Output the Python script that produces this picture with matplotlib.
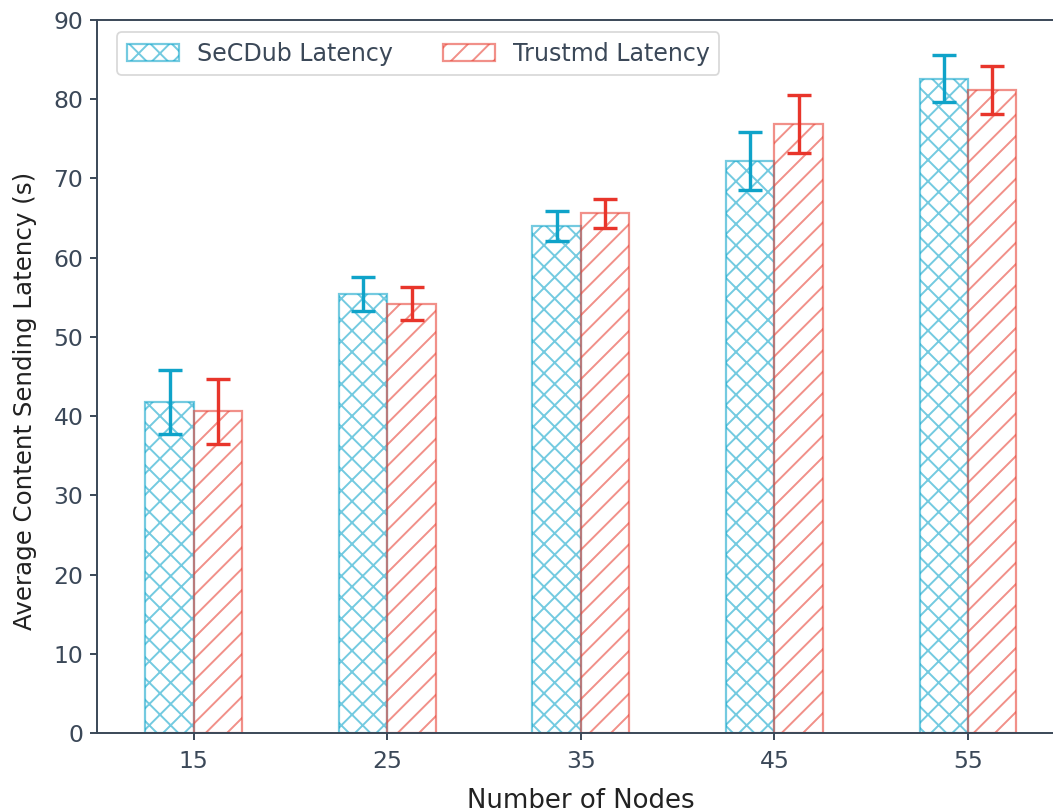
import matplotlib
matplotlib.use("Agg")
import matplotlib.pyplot as plt
import matplotlib.colors as mcolors
import numpy as np

# Data
nodes = [15, 25, 35, 45, 55]
secdub_latency = [41.8, 55.4, 64.0, 72.2, 82.6]
secdub_err = [4.0, 2.1, 1.85, 3.65, 2.95]
trustmd_latency = [40.6, 54.2, 65.6, 76.9, 81.2]
trustmd_err = [4.1, 2.05, 1.85, 3.65, 3.05]
series_labels = ["SeCDub Latency", "Trustmd Latency"]

text_color = "#3b4858"
label_color = "#222222"
cyan_err = "#0fa3c9"
red_err = "#e8352b"
cyan_edge = "#17a8cc"
red_edge = "#e8473a"

plt.rcParams["hatch.linewidth"] = 1.1

DPI = 128
W, H = 1053, 811
fig = plt.figure(figsize=(W / DPI, H / DPI), dpi=DPI)
ax = fig.add_axes([97 / W, 78 / H, (1064.7 - 97) / W, 713 / H])

x = np.array(nodes, dtype=float)
w = 2.5

ax.bar(x - w / 2, secdub_latency, width=w, facecolor="none",
       edgecolor=mcolors.to_rgba(cyan_edge, 0.6), hatch="xx",
       linewidth=1.25, label=series_labels[0])
ax.bar(x + w / 2, trustmd_latency, width=w, facecolor="none",
       edgecolor=mcolors.to_rgba(red_edge, 0.6), hatch="//",
       linewidth=1.25, label=series_labels[1])

ax.errorbar(x - w / 2, secdub_latency, yerr=secdub_err, fmt="none",
            ecolor=cyan_err, elinewidth=1.9, capsize=6.9, capthick=1.9)
ax.errorbar(x + w / 2, trustmd_latency, yerr=trustmd_err, fmt="none",
            ecolor=red_err, elinewidth=1.9, capsize=6.9, capthick=1.9)

ax.set_xlim(10, 60)
ax.set_ylim(0, 90)
ax.set_xticks(nodes)
ax.set_xticklabels([str(n) for n in nodes])
ax.set_yticks(np.arange(0, 91, 10))

for s in ax.spines.values():
    s.set_color(text_color)
    s.set_linewidth(1.1)

ax.tick_params(axis="both", colors=text_color, labelsize=13.2, length=4.2, width=1.1)
ax.tick_params(axis="x", pad=5.5)

ax.set_xlabel("Number of Nodes", color=label_color, fontsize=14.6, labelpad=8.5)
ax.set_ylabel("Average Content Sending Latency (s)", color=label_color, fontsize=13.8)
ax.yaxis.set_label_coords(-0.062, 0.466)

leg = ax.legend(loc="upper left", ncol=2, fontsize=13.4, frameon=True,
                bbox_to_anchor=(20 / 967.7, 1 - 12 / 713), borderaxespad=0.0,
                columnspacing=2.1, handlelength=2.2, handletextpad=0.75)
leg.get_frame().set_edgecolor("#d0d0d0")
for t in leg.get_texts():
    t.set_color(text_color)

fig.savefig("out.png", dpi=DPI)
